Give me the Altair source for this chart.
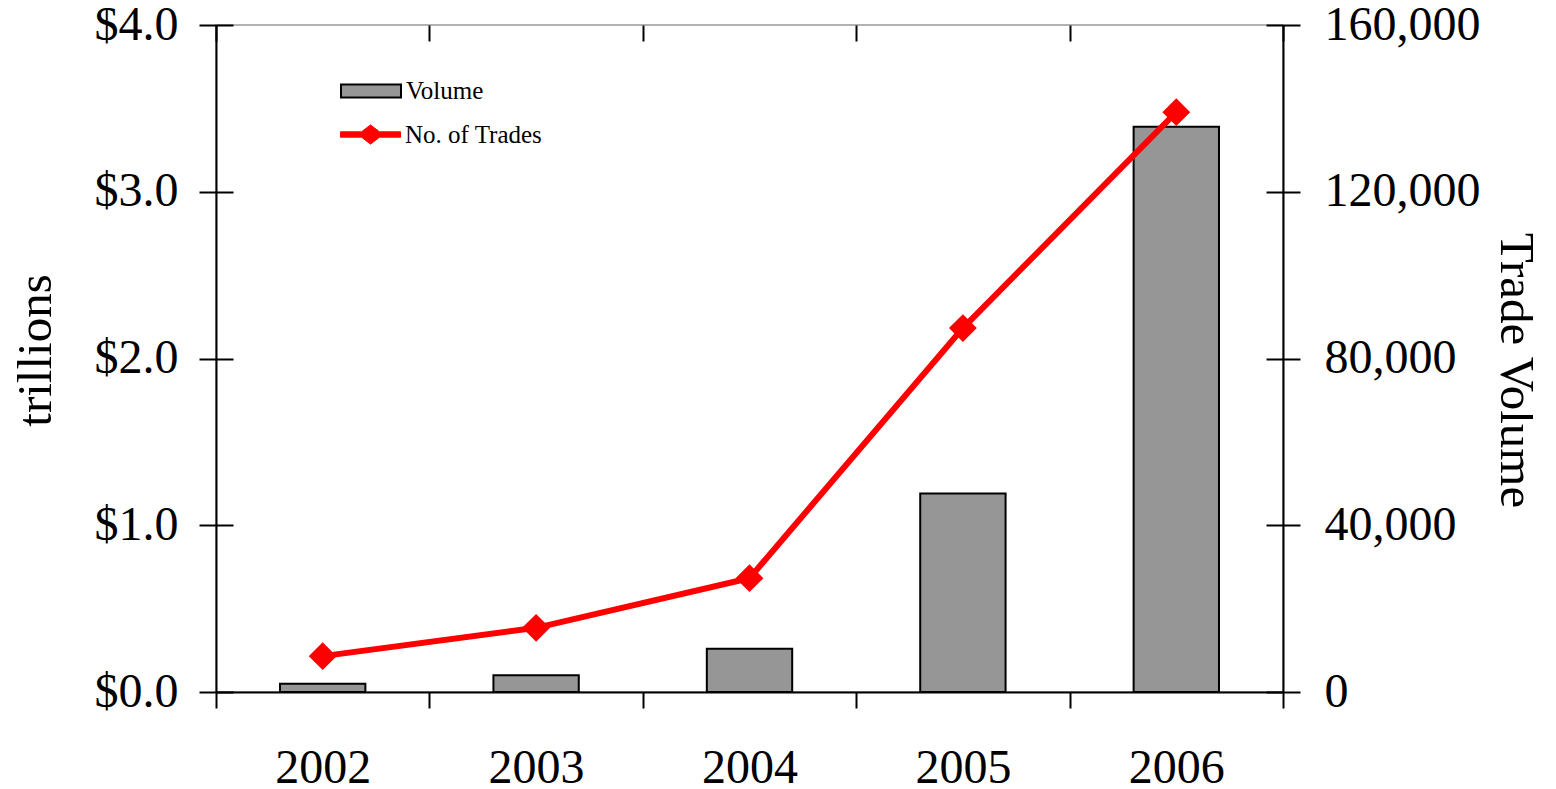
import altair as alt
import pandas as pd

years = ["2002", "2003", "2004", "2005", "2006"]
volume = [0.05, 0.10, 0.26, 1.19, 3.39]          # trillions of dollars
trades = [8600, 15400, 27300, 87300, 139100]      # number of trades
left_ticks = [0, 1, 2, 3, 4]
right_ticks = [0, 40000, 80000, 120000, 160000]

df = pd.DataFrame({
    "year": years,
    "volume": volume,
    "trades": trades,
    "vlabel": ["Volume"] * len(years),
    "tlabel": ["No. of Trades"] * len(years),
})

FONT = "Liberation Serif"
RED = "#FF0000"
GRAY = "#969696"
LBL = 48
TTL = 49

xscale = alt.Scale(paddingInner=0, paddingOuter=0)
lscale = alt.Scale(domain=[0, 4], nice=False)
rscale = alt.Scale(domain=[0, 160000], nice=False)

base = alt.Chart(df)

x_main = alt.X("year:N", scale=xscale, title=None, axis=alt.Axis(
    labelAngle=0, tickBand="extent", tickSize=16, tickWidth=2, tickColor="black",
    domainColor="black", domainWidth=2, labelFont=FONT, labelFontSize=LBL,
    labelColor="black", labelPadding=36, labelOverlap=False, grid=False))
x_inner = alt.X("year:N", scale=xscale, title=None, axis=alt.Axis(
    offset=-16, tickBand="extent", tickSize=16, tickWidth=2, tickColor="black",
    domain=False, labels=False, grid=False))
x_none = alt.X("year:N", scale=xscale, axis=None)

bars = base.mark_bar(stroke="black", strokeWidth=2,
                     width=alt.RelativeBandSize(0.4)).encode(
    x=x_main,
    y=alt.Y("volume:Q", scale=lscale, axis=alt.Axis(
        orient="left", values=left_ticks, format="$.1f", tickSize=17, tickWidth=2,
        tickColor="black", domainColor="black", domainWidth=2, grid=False,
        labelFont=FONT, labelFontSize=LBL, labelColor="black", labelPadding=21,
        labelOverlap=False, labelFlush=False,
        title="trillions", titleFont=FONT, titleFontSize=TTL, titleFontWeight="normal",
        titleColor="black", titleAngle=-90, titleX=-181, titleY=325,
        titleBaseline="middle", titleAlign="center")),
    fill=alt.Fill("vlabel:N", scale=alt.Scale(domain=["Volume"], range=[GRAY]),
                  legend=alt.Legend(
                      title=None, orient="none", legendX=124, legendY=35,
                      symbolType="M-1,-0.22L1,-0.22L1,0.22L-1,0.22Z", symbolSize=3600,
                      symbolStrokeColor="black", symbolStrokeWidth=2,
                      labelFont=FONT, labelFontSize=25, labelColor="black",
                      labelOffset=4, padding=0)),
)

bars_ghost = base.mark_bar(opacity=0, width=alt.RelativeBandSize(0.4)).encode(
    x=x_inner,
    y=alt.Y("volume:Q", scale=lscale, axis=alt.Axis(
        orient="left", values=left_ticks, offset=-17, tickSize=17, tickWidth=2,
        tickColor="black", domain=False, labels=False, grid=False, title=None)),
)

line = base.mark_line(strokeWidth=6, point=alt.OverlayMarkDef(
    shape="diamond", size=625, filled=True, fill=RED, stroke=RED)).encode(
    x=x_none,
    y=alt.Y("trades:Q", scale=rscale, axis=alt.Axis(
        orient="right", values=right_ticks, format=",.0f", tickSize=17, tickWidth=2,
        tickColor="black", domainColor="black", domainWidth=2, grid=False,
        labelFont=FONT, labelFontSize=LBL, labelColor="black", labelPadding=24,
        labelOverlap=False, labelFlush=False,
        title="Trade Volume", titleFont=FONT, titleFontSize=TTL, titleFontWeight="normal",
        titleColor="black", titleAngle=90, titleX=232, titleY=345,
        titleBaseline="middle", titleAlign="center")),
    stroke=alt.Stroke("tlabel:N", scale=alt.Scale(domain=["No. of Trades"], range=[RED]),
                      legend=alt.Legend(
                          title=None, orient="none", legendX=124, legendY=79,
                          symbolType="M-1,-0.09L-0.3,-0.09L0,-0.32L0.3,-0.09L1,-0.09L1,0.09L0.3,0.09L0,0.32L-0.3,0.09L-1,0.09Z",
                          symbolSize=3600, symbolFillColor=RED, symbolStrokeColor=RED,
                          symbolStrokeWidth=1,
                          labelFont=FONT, labelFontSize=25, labelColor="black",
                          labelOffset=4, padding=0)),
)

line_ghost = base.mark_line(opacity=0).encode(
    x=x_none,
    y=alt.Y("trades:Q", scale=rscale, axis=alt.Axis(
        orient="right", values=right_ticks, offset=-17, tickSize=17, tickWidth=2,
        tickColor="black", domain=False, labels=False, grid=False, title=None)),
)

chart = alt.layer(bars, bars_ghost, line, line_ghost).resolve_scale(
    y="independent"
).resolve_axis(
    x="independent"
).properties(
    width=1067, height=667,
    padding={"left": 208, "top": 17, "right": 250, "bottom": 112},
    autosize=alt.AutoSizeParams(type="none"),
).configure_view(
    stroke="#999999", strokeWidth=1.5
)

chart.save("out.html", embed_options={"renderer": "svg", "actions": False})
